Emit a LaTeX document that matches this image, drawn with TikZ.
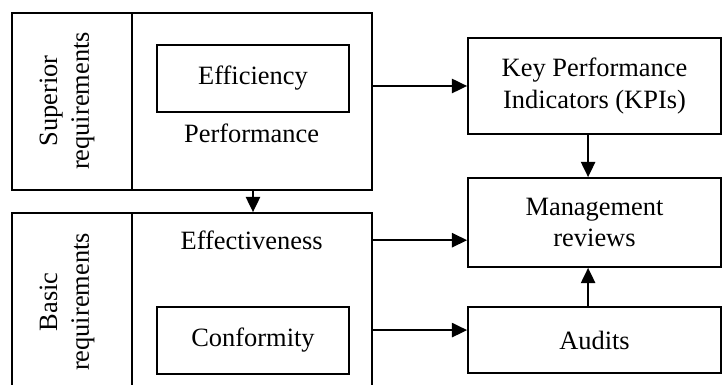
\documentclass[tikz,border=0pt]{standalone}
\usepackage{fontspec}
\setmainfont{Liberation Serif}
\usetikzlibrary{arrows.meta, positioning, calc}

\tikzset{
  reqbox/.style={draw=black, line width=1.3pt, inner sep=0pt},
  itembox/.style={draw=black, line width=1.3pt, align=center,
      minimum width=4.8cm, minimum height=1.675cm},
  outbox/.style={draw=black, line width=1.3pt, align=center,
      minimum width=6.325cm},
  sidelabel/.style={rotate=90, align=center},
  flow/.style={->, line width=1pt}
}

\begin{document}
\begin{tikzpicture}[>={Triangle[length=0.38cm, width=0.36cm]},
    font=\fontsize{18.8}{22.5}\selectfont]

\useasboundingbox (0,0) rectangle (18.05,9.625);

% Superior requirements block
\node[reqbox, minimum width=9cm, minimum height=4.425cm] (sup) at (4.8,7.0875) {};
\draw[line width=1.3pt] ([xshift=3.025cm]sup.north west) -- ([xshift=3.025cm]sup.south west);
\node[sidelabel] (suplab) at (1.675,7.1) {Superior\\requirements};
\node[itembox] (eff) at (6.325,7.6625) {Efficiency};
\node (perf) at (6.29,6.3) {Performance};

% Basic requirements block
\node[reqbox, minimum width=9cm, minimum height=4.6cm] (basic) at (4.8,2.0) {};
\draw[line width=1.3pt] ([xshift=3.025cm]basic.north west) -- ([xshift=3.025cm]basic.south west);
\node[sidelabel] (baslab) at (1.675,2.075) {Basic\\requirements};
\node (effect) at (6.29,3.62) {Effectiveness};
\node[itembox] (conf) at (6.325,1.1125) {Conformity};

% Right column
\node[outbox, minimum height=2.4cm] (kpi) at (14.8625,7.475) {Key Performance\\Indicators (KPIs)};
\node[outbox, minimum height=2.225cm] (mgmt) at (14.8625,4.0625) {Management\\reviews};
\node[outbox, minimum height=1.65cm] (audits) at (14.8625,1.125) {Audits};

% Arrows
\draw[flow] (eff |- sup.south) -- (eff |- basic.north);
\draw[flow] (kpi.west -| sup.east) -- (kpi.west);
\draw[flow] (effect -| basic.east) -- (effect -| mgmt.west);
\draw[flow] ([yshift=0.26cm]conf.center -| basic.east) -- ([yshift=0.26cm]conf.center -| audits.west);
\draw[flow] ([xshift=-0.16cm]kpi.south) -- ([xshift=-0.16cm]mgmt.north);
\draw[flow] ([xshift=-0.16cm]audits.north) -- ([xshift=-0.16cm]mgmt.south);

\end{tikzpicture}
\end{document}
